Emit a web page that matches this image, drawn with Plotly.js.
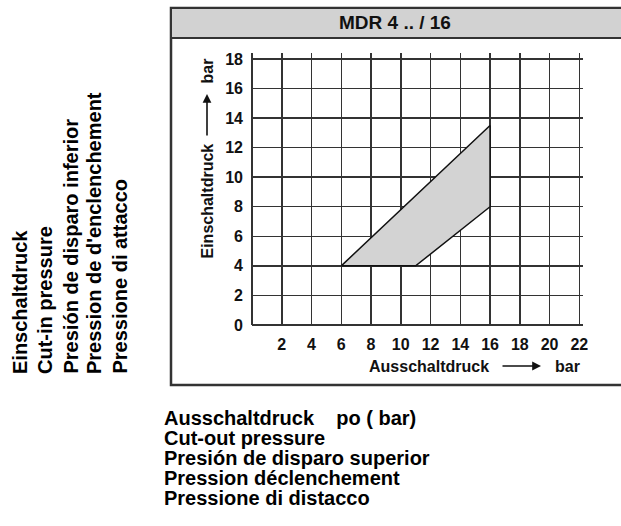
<!DOCTYPE html>
<html><head><meta charset="utf-8">
<script src="https://cdn.plot.ly/plotly-3.0.1.min.js"></script>
<style>html,body{margin:0;padding:0;background:#fff}#chart{width:621px;height:526px}</style>
</head><body><div id="chart"></div>
<script>
// ---- data ----
const chartTitle = "MDR 4 .. / 16";
const cutOut = [6, 16, 16, 11, 6];      // Ausschaltdruck (bar)
const cutIn  = [4, 13.5, 8, 4, 4];      // Einschaltdruck (bar)
const xTicks = [2, 4, 6, 8, 10, 12, 14, 16, 18, 20, 22];
const yTicks = [0, 2, 4, 6, 8, 10, 12, 14, 16, 18];
const xAxisLabel = "Ausschaltdruck";
const yAxisLabel = "Einschaltdruck";
const unitLabel = "bar";
const leftLines = ["Einschaltdruck", "Cut-in pressure", "Presión de disparo inferior", "Pression de d'enclenchement", "Pressione di attacco"];
const bottomLines = ["Ausschaltdruck&nbsp;&nbsp;&nbsp;&nbsp;po ( bar)", "Cut-out pressure", "Presión de disparo superior", "Pression déclenchement", "Pressione di distacco"];

// ---- layout helpers (pixel -> paper) ----
const W = 621, H = 526;
const M = {l: 252, r: 38, t: 53, b: 201};
const PW = W - M.l - M.r, PH = H - M.t - M.b;
const fx = px => (px - M.l) / PW;
const fy = py => (H - M.b - py) / PH;
const FONT = "Liberation Sans, Arial, Helvetica, sans-serif";
const dark = "#333";

const trace = {
  x: cutOut, y: cutIn, type: "scatter", mode: "lines",
  fill: "toself", fillcolor: "#d3d3d3",
  line: {color: "#111", width: 1.5},
  hoverinfo: "skip", showlegend: false
};

function ann(o) {
  return Object.assign({xref: "paper", yref: "paper", xanchor: "center", yanchor: "middle", showarrow: false}, o);
}
const annotations = [];
annotations.push(ann({x: fx(395), y: fy(23), text: chartTitle,
  font: {family: FONT, size: 19, weight: "bold", color: "#111"}}));
// y axis title
annotations.push(ann({x: fx(207), y: fy(142), yanchor: "top", text: yAxisLabel, textangle: -90,
  font: {family: FONT, size: 16, weight: "bold", color: "#111"}}));
annotations.push(ann({x: fx(207), y: fy(57), yanchor: "top", text: unitLabel, textangle: -90,
  font: {family: FONT, size: 16, weight: "bold", color: "#111"}}));
annotations.push(ann({x: fx(207), y: fy(94), text: "", showarrow: true,
  ax: 0, ay: 43, arrowhead: 2, arrowsize: 1.1, arrowwidth: 1.6, arrowcolor: "#111"}));
// x axis title
annotations.push(ann({x: fx(367), y: fy(366), xanchor: "left", text: xAxisLabel,
  font: {family: FONT, size: 16, weight: "bold", color: "#111"}}));
annotations.push(ann({x: fx(541), y: fy(366), text: "", showarrow: true,
  ax: -40, ay: 0, arrowhead: 2, arrowsize: 1.1, arrowwidth: 1.6, arrowcolor: "#111"}));
annotations.push(ann({x: fx(553), y: fy(366), xanchor: "left", text: unitLabel,
  font: {family: FONT, size: 16, weight: "bold", color: "#111"}}));
// left rotated lines
const leftX = [20, 45, 70, 94, 119];
leftLines.forEach((t, i) => annotations.push(ann({x: fx(leftX[i]), y: fy(376), yanchor: "bottom",
  text: t, textangle: -90, font: {family: FONT, size: 20, weight: "bold", color: "#000"}})));
// bottom lines
const botY = [418, 438, 458, 478, 498];
bottomLines.forEach((t, i) => annotations.push(ann({x: fx(162), y: fy(botY[i]), xanchor: "left",
  text: t, font: {family: FONT, size: 20, weight: "bold", color: "#000"}})));

const shapes = [
  {type: "rect", xref: "paper", yref: "paper", x0: fx(171), x1: fx(632), y0: fy(385), y1: fy(8),
   line: {color: "#333", width: 2.5}, fillcolor: "rgba(0,0,0,0)"},
  {type: "rect", xref: "paper", yref: "paper", x0: fx(171), x1: fx(632), y0: fy(38), y1: fy(8),
   line: {color: "#333", width: 2}, fillcolor: "#d2d2d2"}
];

const axisCommon = {
  showgrid: true, gridcolor: dark, gridwidth: 1.5,
  zeroline: true, zerolinecolor: dark, zerolinewidth: 1.6,
  showline: false, ticks: "", fixedrange: true,
  tickfont: {family: FONT, size: 16, weight: "bold", color: "#111"}
};

const layout = {
  width: W, height: H, margin: M,
  paper_bgcolor: "#fff", plot_bgcolor: "rgba(0,0,0,0)",
  xaxis: Object.assign({}, axisCommon, {range: [0, 22.25], tickvals: xTicks, ticktext: xTicks.map(String), ticklabelstandoff: 8}),
  yaxis: Object.assign({}, axisCommon, {range: [0, 18.4], tickvals: yTicks, ticktext: yTicks.map(String), ticklabelstandoff: 8}),
  annotations: annotations, shapes: shapes, showlegend: false
};

Plotly.newPlot("chart", [trace], layout, {displayModeBar: false, staticPlot: true});
</script></body></html>
